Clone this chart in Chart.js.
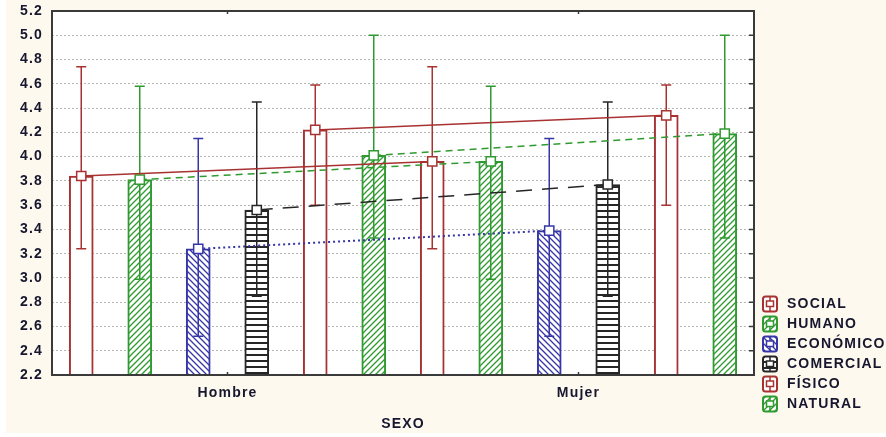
<!DOCTYPE html>
<html><head><meta charset="utf-8">
<script src="https://cdn.jsdelivr.net/npm/chart.js@4.4.1/dist/chart.umd.min.js"></script>
<style>html,body{margin:0;padding:0;background:#fff}canvas{display:block}</style>
</head><body>
<canvas id="c" width="886" height="437"></canvas>
<script>
// ---- data ----
const categories = ['Hombre', 'Mujer'];
const seriesNames = ['SOCIAL', 'HUMANO', 'ECONÓMICO', 'COMERCIAL', 'FÍSICO', 'NATURAL'];
const SOCIAL = [3.84, 3.96];
const SOCIAL_LOW = [3.24, 3.24];
const SOCIAL_HIGH = [4.74, 4.74];
const HUMANO = [3.81, 3.96];
const HUMANO_LOW = [2.99, 2.99];
const HUMANO_HIGH = [4.58, 4.58];
const ECONOMICO = [3.24, 3.39];
const ECONOMICO_LOW = [2.52, 2.52];
const ECONOMICO_HIGH = [4.15, 4.15];
const COMERCIAL = [3.56, 3.77];
const COMERCIAL_LOW = [2.85, 2.85];
const COMERCIAL_HIGH = [4.45, 4.45];
const FISICO = [4.22, 4.34];
const FISICO_LOW = [3.60, 3.60];
const FISICO_HIGH = [4.59, 4.59];
const NATURAL = [4.01, 4.19];
const NATURAL_LOW = [3.33, 3.33];
const NATURAL_HIGH = [5.00, 5.00];
const yTickLabels = ['2.2','2.4','2.6','2.8','3.0','3.2','3.4','3.6','3.8','4.0','4.2','4.4','4.6','4.8','5.0','5.2'];
const axisTitle = 'SEXO';

const means = [SOCIAL, HUMANO, ECONOMICO, COMERCIAL, FISICO, NATURAL];
const lows = [SOCIAL_LOW, HUMANO_LOW, ECONOMICO_LOW, COMERCIAL_LOW, FISICO_LOW, NATURAL_LOW];
const highs = [SOCIAL_HIGH, HUMANO_HIGH, ECONOMICO_HIGH, COMERCIAL_HIGH, FISICO_HIGH, NATURAL_HIGH];

// ---- styles ----
const RED = '#a83232', GREEN = '#2f9a2f', BLUE = '#3636a6', BLACK = '#262626';
const TEXT = '#16162e';
const styles = [
  {color: RED, fill: 'none', dash: []},
  {color: GREEN, fill: 'diagUp', dash: [7, 5]},
  {color: BLUE, fill: 'diagDown', dash: [2, 3]},
  {color: BLACK, fill: 'horiz', dash: [16, 10]},
  {color: RED, fill: 'none', dash: []},
  {color: GREEN, fill: 'diagUp', dash: [7, 5]}
];
const FONT = {family: "'Liberation Sans', Arial, sans-serif", size: 14, weight: 'bold'};
const SPACING = '1.2px';

const mainCtx = document.getElementById('c').getContext('2d');
function makeTile(kind, color) {
  const t = document.createElement('canvas'); t.width = 6; t.height = 6;
  const c = t.getContext('2d');
  c.fillStyle = '#fff'; c.fillRect(0, 0, 6, 6);
  c.strokeStyle = color; c.fillStyle = color; c.lineWidth = 1.3;
  if (kind === 'diagUp') {
    c.beginPath();
    c.moveTo(-1, 7); c.lineTo(7, -1);
    c.moveTo(-4, 4); c.lineTo(4, -4);
    c.moveTo(2, 10); c.lineTo(10, 2);
    c.stroke();
  } else if (kind === 'diagDown') {
    c.beginPath();
    c.moveTo(-1, -1); c.lineTo(7, 7);
    c.moveTo(-4, 2); c.lineTo(4, 10);
    c.moveTo(2, -4); c.lineTo(10, 4);
    c.stroke();
  } else if (kind === 'horiz') {
    c.fillRect(0, 0, 6, 2);
  }
  return t;
}
function makeFill(ctx, st) {
  if (st.fill === 'none') return '#ffffff';
  return ctx.createPattern(makeTile(st.fill, st.color), 'repeat');
}
function makeIcon(st) {
  const cv = document.createElement('canvas'); cv.width = 18; cv.height = 18;
  const c = cv.getContext('2d');
  c.fillStyle = makeFill(c, st);
  c.beginPath(); c.roundRect(2, 1.5, 14, 15, 2.5); c.fill();
  c.strokeStyle = st.color; c.lineWidth = 2; c.stroke();
  c.lineWidth = 1.5; c.beginPath(); c.moveTo(9, 2); c.lineTo(9, 16); c.stroke();
  c.fillStyle = '#fff'; c.fillRect(5.5, 6, 7, 5.5);
  c.strokeRect(5.5, 6, 7, 5.5);
  return cv;
}
const icons = styles.map(makeIcon);

const nSeries = seriesNames.length;
const slot = (s, g) => g * nSeries + s;
const groupCenters = categories.map((c, g) => slot((nSeries - 1) / 2, g));
const yVals = yTickLabels.map(Number);

const barSets = seriesNames.map((name, s) => ({
  type: 'bar', label: name,
  data: categories.map((c, g) => ({x: slot(s, g), y: means[s][g]})),
  backgroundColor: makeFill(mainCtx, styles[s]),
  borderColor: styles[s].color, borderWidth: 2, borderSkipped: 'start',
  barThickness: 24, grouped: false, base: yVals[0], order: 2,
  errLow: lows[s], errHigh: highs[s]
}));
const lineSets = seriesNames.map((name, s) => ({
  type: 'line', label: name + ' line',
  data: categories.map((c, g) => ({x: slot(s, g), y: means[s][g]})),
  borderColor: styles[s].color, borderDash: styles[s].dash,
  borderWidth: styles[s].fill === 'diagDown' ? 2 : 1.5,
  pointStyle: 'rect', pointRadius: 6.5, pointBackgroundColor: '#fff',
  pointBorderColor: styles[s].color, pointBorderWidth: 1.5,
  fill: false, tension: 0, order: 1
}));

const deco = {
  id: 'deco',
  beforeUpdate(chart) {
    chart.ctx.letterSpacing = SPACING;
    const lg = chart.legend;
    if (lg && !lg._patched) {
      const f = lg.fit;
      lg.fit = function () { f.call(this); this.width = 132; };
      lg._patched = true;
    }
  },
  afterLayout(chart) {
    const lg = chart.legend;
    if (lg) { lg.bottom = 417; lg.height = lg.bottom - lg.top; }
  },
  beforeDraw(chart) {
    const c = chart.ctx, a = chart.chartArea;
    c.letterSpacing = SPACING;
    c.save();
    c.fillStyle = '#fff'; c.fillRect(0, 0, chart.width, chart.height);
    c.fillStyle = '#fef9ee'; c.fillRect(6, 0, chart.width - 6, 433);
    c.fillStyle = '#fff'; c.fillRect(a.left, a.top, a.right - a.left, a.bottom - a.top);
    c.restore();
  },
  afterDatasetDraw(chart, args) {
    const ds = chart.data.datasets[args.index];
    if (ds.type !== 'bar') return;
    const c = chart.ctx, yS = chart.scales.y;
    c.save();
    c.strokeStyle = ds.borderColor; c.lineWidth = 1.5;
    args.meta.data.forEach((el, j) => {
      const x = el.x, yl = yS.getPixelForValue(ds.errLow[j]), yh = yS.getPixelForValue(ds.errHigh[j]);
      c.beginPath();
      c.moveTo(x, yl); c.lineTo(x, yh);
      c.moveTo(x - 5, yl); c.lineTo(x + 5, yl);
      c.moveTo(x - 5, yh); c.lineTo(x + 5, yh);
      c.stroke();
    });
    c.restore();
  },
  afterDraw(chart) {
    const c = chart.ctx, a = chart.chartArea, yS = chart.scales.y, xS = chart.scales.x;
    c.save();
    c.strokeStyle = '#3a3a3a'; c.lineWidth = 2;
    c.strokeRect(a.left, a.top, a.right - a.left, a.bottom - a.top);
    c.lineWidth = 1.5;
    c.beginPath();
    yVals.forEach(v => { const p = yS.getPixelForValue(v); c.moveTo(a.right - 5, p); c.lineTo(a.right, p); });
    groupCenters.forEach(v => {
      const p = xS.getPixelForValue(v);
      c.moveTo(p, a.top); c.lineTo(p, a.top + 3);
      c.moveTo(p, a.bottom); c.lineTo(p, a.bottom - 3);
    });
    c.stroke();
    c.restore();
  }
};

new Chart(mainCtx, {
  type: 'bar',
  data: {datasets: [...lineSets, ...barSets]},
  options: {
    responsive: false, animation: false, events: [],
    layout: {padding: {top: 11, left: 0, right: 0, bottom: 0}},
    scales: {
      x: {
        type: 'linear', bounds: 'data', offset: false,
        min: -0.5, max: nSeries * categories.length - 0.5,
        grid: {display: false, drawTicks: false, offset: false}, border: {display: false},
        afterBuildTicks: s => { s.ticks = groupCenters.map(v => ({value: v})); },
        ticks: {padding: 10, autoSkip: false, maxRotation: 0, font: FONT, color: TEXT,
          callback: v => categories[groupCenters.indexOf(v)]},
        title: {display: true, text: axisTitle, font: FONT, color: TEXT, padding: {top: 12, bottom: 4}},
        afterFit: s => { s.height = 62; s.paddingLeft = 0; s.paddingRight = 0; }
      },
      y: {
        type: 'linear', bounds: 'data', min: yVals[0], max: yVals[yVals.length - 1],
        afterBuildTicks: s => { s.ticks = yVals.map(v => ({value: v})); },
        ticks: {padding: 9, font: FONT, color: TEXT, callback: (v, i) => yTickLabels[i]},
        grid: {color: '#b5b5b5', lineWidth: 1, drawTicks: false},
        border: {display: false, dash: [2, 2]},
        afterFit: s => { s.width = 52; s.paddingTop = 0; s.paddingBottom = 0; }
      }
    },
    plugins: {
      tooltip: {enabled: false},
      legend: {
        position: 'right', align: 'end', maxWidth: 132,
        labels: {
          usePointStyle: true, pointStyleWidth: 20, padding: 6, font: FONT, color: TEXT,
          generateLabels: () => seriesNames.map((name, s) => ({
            text: name, pointStyle: icons[s], fillStyle: '#fff', strokeStyle: styles[s].color,
            lineWidth: 0, hidden: false, datasetIndex: s, fontColor: TEXT
          }))
        }
      }
    }
  },
  plugins: [deco]
});
</script>
</body></html>
